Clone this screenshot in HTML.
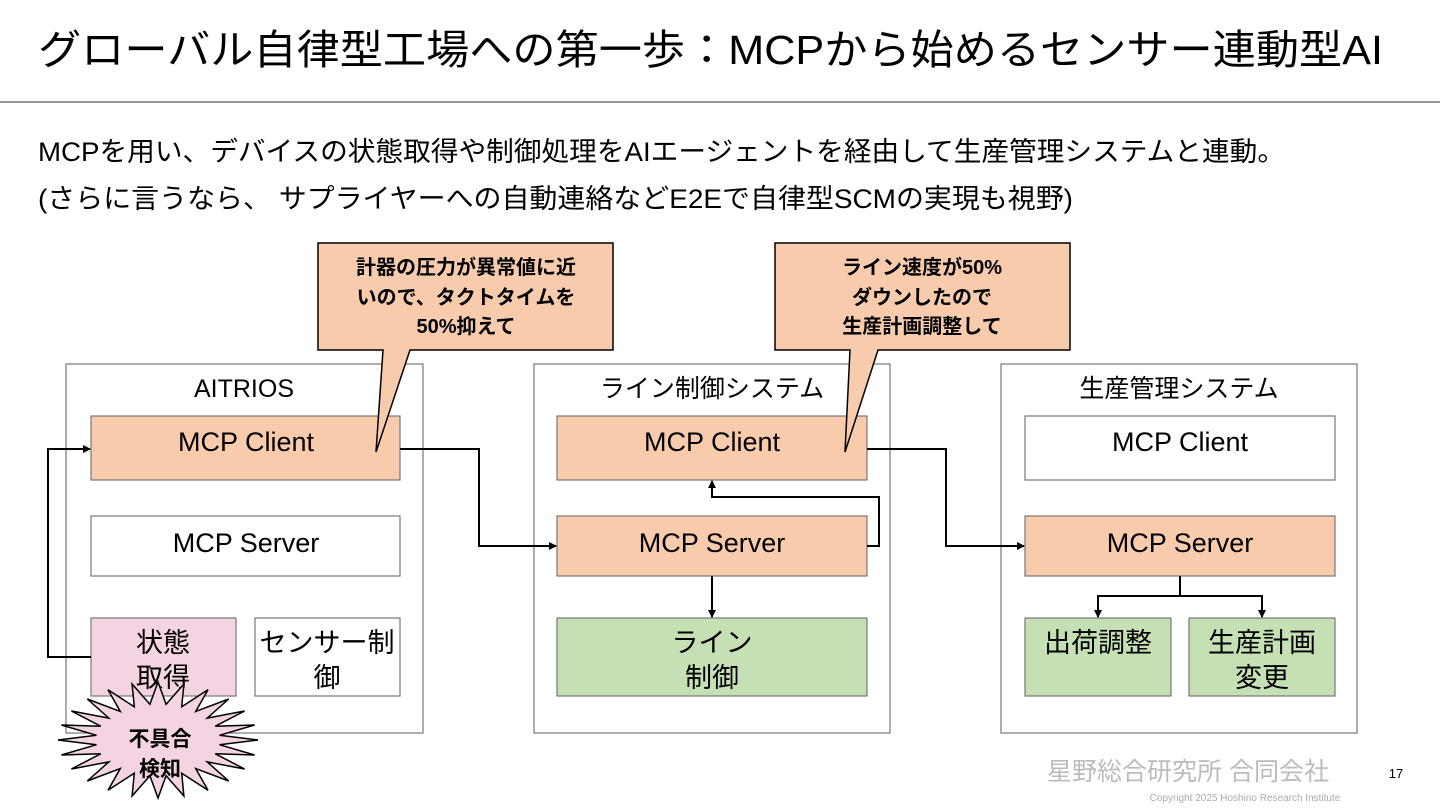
<!DOCTYPE html>
<html><head><meta charset="utf-8"><style>
body{margin:0;background:#fff}
svg{display:block}
text{font-family:"Liberation Sans","Noto Sans CJK JP",sans-serif}
</style></head><body>
<svg width="1440" height="810" viewBox="0 0 1440 810" xmlns="http://www.w3.org/2000/svg">
<defs><marker id="a" markerWidth="8" markerHeight="8" refX="7" refY="4" orient="auto" markerUnits="userSpaceOnUse"><path d="M0,0 L8,4 L0,8 z" fill="#000"/></marker></defs>
<text x="38" y="64" font-size="41" fill="#000" textLength="1345" lengthAdjust="spacingAndGlyphs">グローバル自律型工場への第一歩：MCPから始めるセンサー連動型AI</text>
<line x1="0" y1="102" x2="1440" y2="102" stroke="#777" stroke-width="1.5"/>
<text x="38" y="161" font-size="27" textLength="1247" lengthAdjust="spacingAndGlyphs">MCPを用い、デバイスの状態取得や制御処理をAIエージェントを経由して生産管理システムと連動。</text>
<text x="38" y="208" font-size="27" textLength="1035" lengthAdjust="spacingAndGlyphs">(さらに言うなら、 サプライヤーへの自動連絡などE2Eで自律型SCMの実現も視野)</text>

<g stroke="#777" stroke-width="1.2" fill="#fff">
<rect x="66" y="364" width="357" height="369"/>
<rect x="534" y="364" width="356" height="369"/>
<rect x="1001" y="364" width="356" height="369"/>
</g>
<g font-size="25" text-anchor="middle">
<text x="244" y="397">AITRIOS</text>
<text x="712" y="397">ライン制御システム</text>
<text x="1179" y="397">生産管理システム</text>
</g>
<g stroke="#777" stroke-width="1.2">
<rect x="91" y="416" width="309" height="64" fill="#F8CBAD"/>
<rect x="91" y="516" width="309" height="60" fill="#fff"/>
<rect x="91" y="618" width="145" height="78" fill="#F4D3E2"/>
<rect x="255" y="618" width="145" height="78" fill="#fff"/>
<rect x="557" y="416" width="310" height="64" fill="#F8CBAD"/>
<rect x="557" y="516" width="310" height="60" fill="#F8CBAD"/>
<rect x="557" y="618" width="310" height="78" fill="#C5E0B4"/>
<rect x="1025" y="416" width="310" height="64" fill="#fff"/>
<rect x="1025" y="516" width="310" height="60" fill="#F8CBAD"/>
<rect x="1025" y="618" width="146" height="78" fill="#C5E0B4"/>
<rect x="1189" y="618" width="146" height="78" fill="#C5E0B4"/>
</g>
<g font-size="27" text-anchor="middle">
<text x="246" y="451">MCP Client</text>
<text x="246" y="552">MCP Server</text>
<text x="163" y="652">状態</text><text x="163" y="687">取得</text>
<text x="327" y="652">センサー制</text><text x="327" y="687">御</text>
<text x="712" y="451">MCP Client</text>
<text x="712" y="552">MCP Server</text>
<text x="712" y="652">ライン</text><text x="712" y="687">制御</text>
<text x="1180" y="451">MCP Client</text>
<text x="1180" y="552">MCP Server</text>
<text x="1098" y="652">出荷調整</text>
<text x="1262" y="652">生産計画</text><text x="1262" y="687">変更</text>
</g>
<g stroke="#000" stroke-width="2" fill="none">
<polyline points="91,657 48,657 48,449 90,449" marker-end="url(#a)"/>
<polyline points="400,449 479,449 479,546 556,546" marker-end="url(#a)"/>
<polyline points="867,546 879,546 879,497 712,497 712,481" marker-end="url(#a)"/>
<polyline points="712,576 712,617" marker-end="url(#a)"/>
<polyline points="867,449 946,449 946,546 1024,546" marker-end="url(#a)"/>
<polyline points="1180,576 1180,596 1098,596 1098,617" marker-end="url(#a)"/>
<polyline points="1180,596 1262,596 1262,617" marker-end="url(#a)"/>
</g>
<path d="M318,243 H613 V350 H410 L376,452 L383,350 H318 Z" fill="#F8CBAD" stroke="#000" stroke-width="1.5"/>
<path d="M775,243 H1070 V350 H878 L845,452 L850,350 H775 Z" fill="#F8CBAD" stroke="#000" stroke-width="1.5"/>
<g font-size="20" font-weight="bold" text-anchor="middle">
<text x="466" y="274">計器の圧力が異常値に近</text>
<text x="466" y="304">いので、タクトタイムを</text>
<text x="466" y="333">50%抑えて</text>
<text x="922" y="274">ライン速度が50%</text>
<text x="922" y="304">ダウンしたので</text>
<text x="922" y="333">生産計画調整して</text>
</g>
<polygon fill="#F4D3E2" stroke="#000" stroke-width="1.5" points="258,740 219.5,744.7 254.6,755 215.3,753.8 244.6,769 207.2,761.9 228.7,781 195.7,768.5 208,790.2 181.7,773.2 183.9,796 166.1,775.7 158,798 149.9,775.7 132.1,796 134.3,773.2 108,790.2 120.3,768.5 87.3,781 108.8,761.9 71.4,769 100.7,753.8 61.4,755 96.5,744.7 58,740 96.5,735.3 61.4,725 100.7,726.2 71.4,711 108.8,718.1 87.3,699 120.3,711.5 108,689.8 134.3,706.8 132.1,684 149.9,704.3 158,682 166.1,704.3 183.9,684 181.7,706.8 208,689.8 195.7,711.5 228.7,699 207.2,718.1 244.6,711 215.3,726.2 254.6,725 219.5,735.3"/>
<g font-size="21" font-weight="bold" text-anchor="middle">
<text x="160" y="746">不具合</text><text x="160" y="776">検知</text>
</g>
<text x="1188" y="780" font-size="25" fill="#bbb" text-anchor="middle" font-family="Noto Serif CJK SC, serif">星野総合研究所 合同会社</text>
<text x="1396" y="778" font-size="13" fill="#000" text-anchor="middle">17</text>
<text x="1245" y="801" font-size="10" fill="#aaa" text-anchor="middle">Copyright 2025 Hoshino Research Institute</text>
</svg>
</body></html>
